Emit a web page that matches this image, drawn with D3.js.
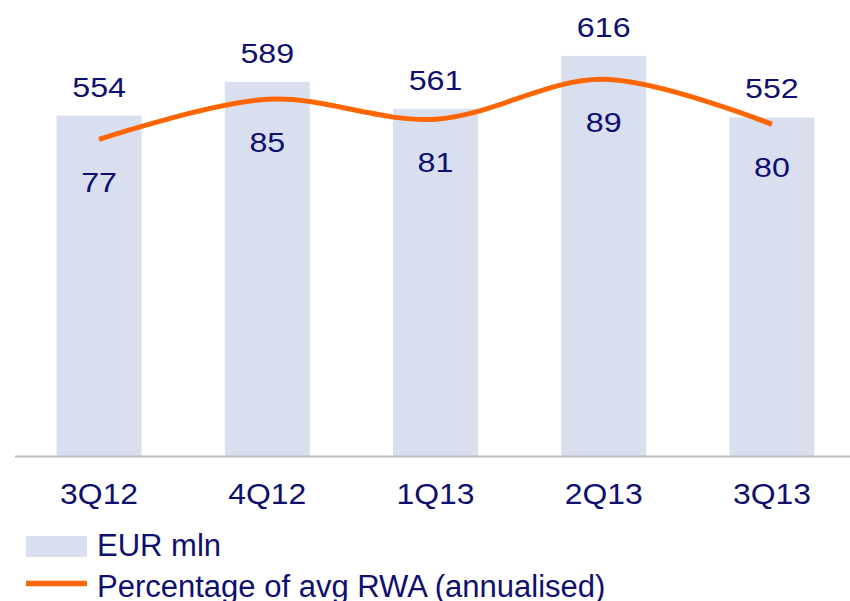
<!DOCTYPE html>
<html>
<head>
<meta charset="utf-8">
<script src="https://cdn.jsdelivr.net/npm/d3@7"></script>
<style>
  html, body { margin: 0; padding: 0; background: #fff; }
  svg { display: block; font-family: "Liberation Sans", Arial, sans-serif; }
</style>
</head>
<body>
<svg id="chart" width="850" height="601"></svg>
<script>
const categories = ["3Q12", "4Q12", "1Q13", "2Q13", "3Q13"];
const barValues = [554, 589, 561, 616, 552];
const lineValues = [77, 85, 81, 89, 80];
const legendLabels = ["EUR mln", "Percentage of avg RWA (annualised)"];

const textColor = "#0f0f6e";
const barColor = "#d9dfee";
const lineColor = "#ff6600";

const svg = d3.select("#chart");
const baseY = 456.5;

const x = d3.scaleBand().domain(categories).range([15, 856]).paddingInner(0.495).paddingOuter(0.2475);
const yBar = d3.scaleLinear().domain([200, 674]).range([baseY, 0]);
const yLine = d3.scaleLinear().domain([0, 100]).range([524.3, 24.3]);
const cx = c => x(c) + x.bandwidth() / 2;

// bars
svg.append("g").selectAll("rect").data(categories).join("rect")
  .attr("x", c => x(c))
  .attr("width", x.bandwidth())
  .attr("y", (c, i) => yBar(barValues[i]))
  .attr("height", (c, i) => baseY - yBar(barValues[i]))
  .attr("fill", barColor);

// axis line
const xAxis = d3.axisBottom(x).tickSize(0).tickPadding(0);
const ax = svg.append("g").attr("transform", `translate(0,${baseY})`).call(xAxis);
ax.select(".domain").attr("d", "M15,0H850").attr("stroke", "#bdbdbd").attr("stroke-width", 2);
ax.selectAll(".tick text")
  .attr("y", 0).attr("dy", 0)
  .attr("transform", "translate(0,47.5) scale(1.1,1)")
  .attr("font-size", 29).attr("fill", textColor)
  .attr("font-family", "'Liberation Sans', Arial, sans-serif");

// line
const line = d3.line()
  .x((d, i) => cx(categories[i]))
  .y(d => yLine(d))
  .curve(d3.curveCardinal.tension(0));
svg.append("path").datum(lineValues)
  .attr("d", line)
  .attr("fill", "none")
  .attr("stroke", lineColor)
  .attr("stroke-width", 5)
  .attr("stroke-linejoin", "round");

// bar value labels
svg.append("g").selectAll("text").data(categories).join("text")
  .attr("transform", (c, i) => `translate(${cx(c)},${yBar(barValues[i]) - 19}) scale(1.15,1)`)
  .attr("text-anchor", "middle")
  .attr("font-size", 28)
  .attr("fill", textColor)
  .text((c, i) => barValues[i]);

// line value labels
svg.append("g").selectAll("text").data(categories).join("text")
  .attr("transform", (c, i) => `translate(${cx(c)},${yLine(lineValues[i]) + 52.5}) scale(1.15,1)`)
  .attr("text-anchor", "middle")
  .attr("font-size", 28)
  .attr("fill", textColor)
  .text((c, i) => lineValues[i]);

// legend
const lg = svg.append("g");
lg.append("rect").attr("x", 26).attr("y", 536).attr("width", 61).attr("height", 21).attr("fill", barColor);
lg.append("text").attr("x", 97).attr("y", 556).attr("font-size", 31).attr("fill", textColor).text(legendLabels[0]);
lg.append("line").attr("x1", 26).attr("x2", 87).attr("y1", 583.5).attr("y2", 583.5)
  .attr("stroke", lineColor).attr("stroke-width", 5.5);
lg.append("text").attr("x", 97).attr("y", 597).attr("font-size", 31).attr("fill", textColor).text(legendLabels[1]);
</script>
</body>
</html>
